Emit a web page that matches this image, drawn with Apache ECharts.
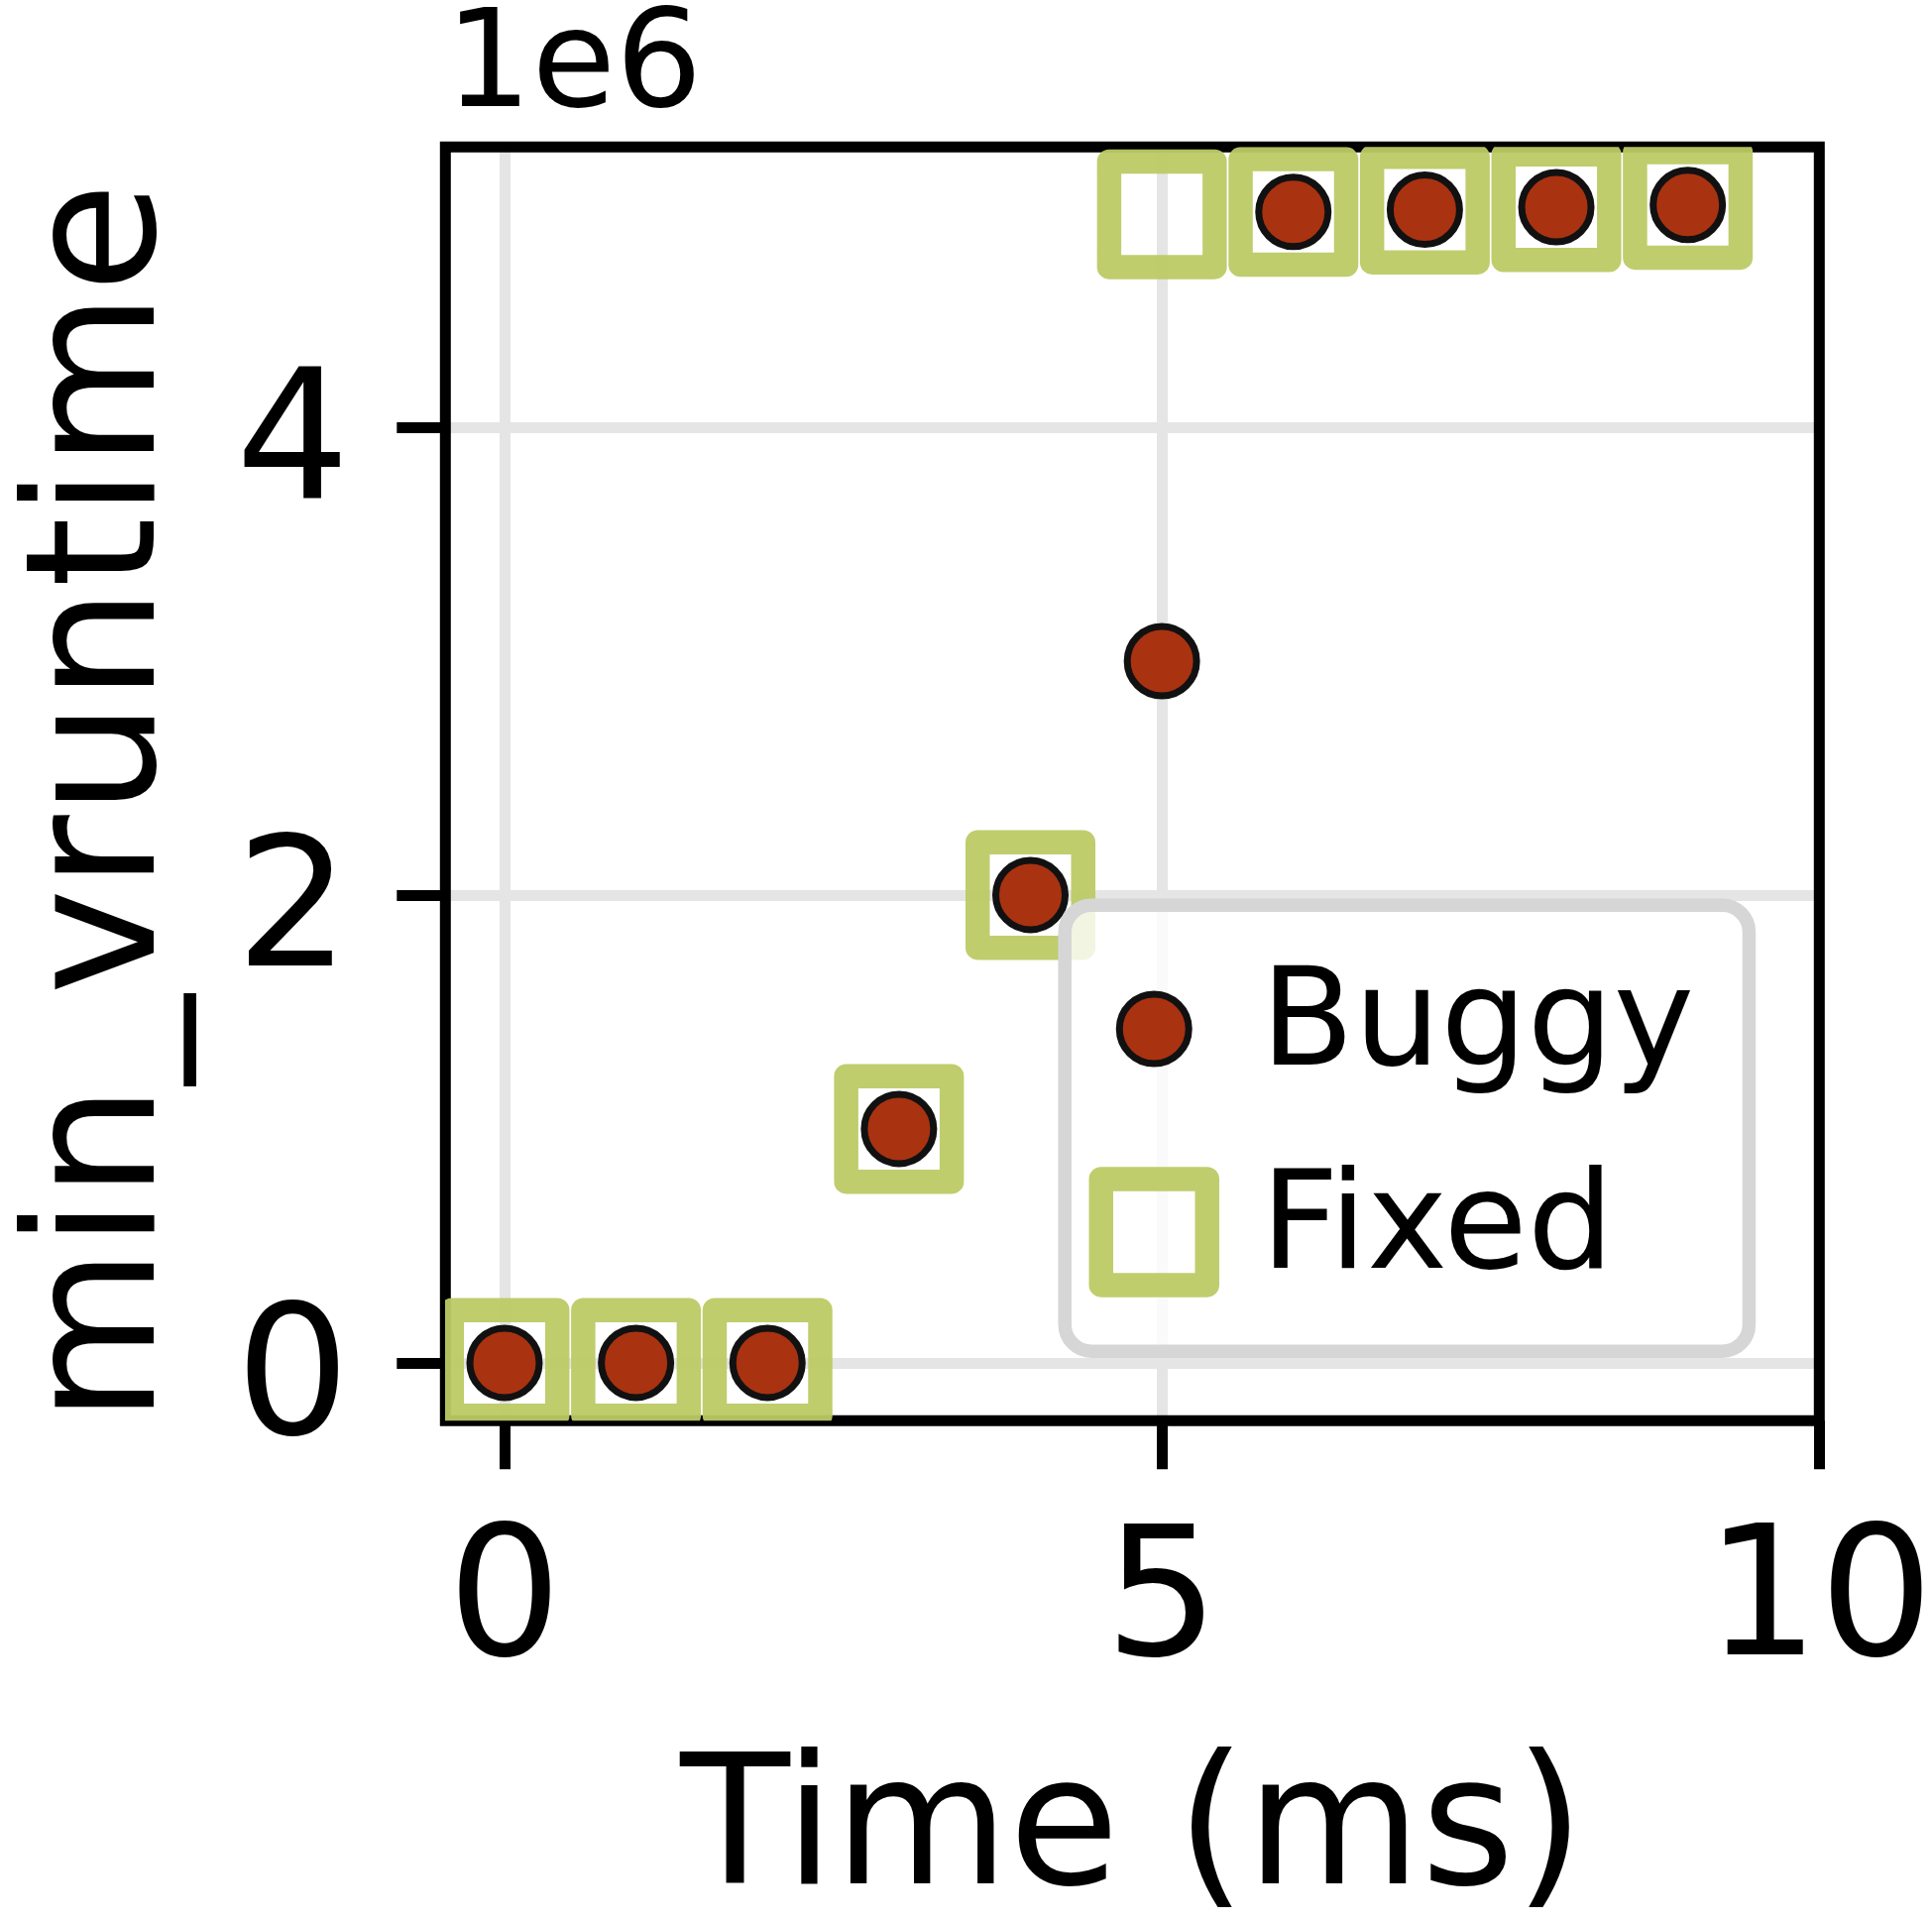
<!DOCTYPE html>
<html><head><meta charset="utf-8">
<script src="https://cdn.jsdelivr.net/npm/echarts@6/dist/echarts.min.js"></script>
<style>html,body{margin:0;padding:0;background:#fff}#c{width:1949px;height:1938px}</style>
</head><body><div id="c"></div>
<script>
// ---- data ----
const timeMs = [0, 1, 2, 3, 4, 5, 6, 7, 8, 9];
const buggy = [0, 0, 0, 1.0e6, 2.0e6, 3.0e6, 4.92e6, 4.93e6, 4.94e6, 4.95e6];
const fixed = [0, 0, 0, 1.0e6, 2.0e6, 4.91e6, 4.92e6, 4.93e6, 4.94e6, 4.95e6];
const xTicks = [0, 5, 10];
const yTicks = [0, 2e6, 4e6];
const seriesNames = ['Buggy', 'Fixed'];
const yOffsetText = '1e6';

// ---- style ----
const FONT = 'DejaVu Sans';
const BIG = 181;
const RED = '#a93211';
const EDGE = '#111111';
const GREEN = 'rgba(188,202,101,0.95)';
const GRID_C = '#e5e5e5';

const chart = echarts.init(document.getElementById('c'), null, {renderer: 'canvas'});

const buggyData = timeMs.map((t, i) => [t, buggy[i]]);
const fixedData = timeMs.map((t, i) => [t, fixed[i]]);

const option = {
  animation: false,
  backgroundColor: '#fff',
  title: {
    text: yOffsetText, left: 449, top: 3, padding: 0,
    textStyle: {fontFamily: FONT, fontSize: 137.5, lineHeight: 137.5, fontWeight: 'normal', color: '#000'}
  },
  grid: {
    left: 449.3, right: 113.7, top: 148.3, bottom: 504.7,
    containLabel: false, outerBoundsMode: 'none',
    show: true, z: 1, borderColor: '#000', borderWidth: 11, backgroundColor: 'transparent'
  },
  xAxis: {
    type: 'value', min: -0.45, max: 10,
    name: 'Time (ms)', nameLocation: 'middle', nameGap: 329,
    nameTextStyle: {fontFamily: FONT, fontSize: BIG, lineHeight: BIG, color: '#000'},
    axisLine: {show: false, onZero: false},
    axisTick: {show: true, inside: false, customValues: xTicks, length: 49, lineStyle: {color: '#000', width: 11}},
    axisLabel: {customValues: xTicks, margin: 98, fontFamily: FONT, fontSize: BIG, lineHeight: BIG, color: '#000',
      formatter: v => String(v)},
    splitLine: {show: true, lineStyle: {color: GRID_C, width: 11}}
  },
  yAxis: {
    type: 'value', min: -0.2475e6, max: 5.1975e6,
    name: 'min_vruntime', nameLocation: 'middle', nameRotate: 90, nameGap: 251,
    nameTextStyle: {fontFamily: FONT, fontSize: BIG, lineHeight: BIG, color: '#000', padding: [0, 38, 0, 0]},
    axisLine: {show: false, onZero: false},
    axisTick: {show: true, inside: false, customValues: yTicks, length: 49, lineStyle: {color: '#000', width: 11}},
    axisLabel: {customValues: yTicks, margin: 96.5, fontFamily: FONT, fontSize: BIG, lineHeight: 48,
      verticalAlign: 'top', color: '#000', formatter: v => String(Math.round(v / 1e6))},
    splitLine: {show: true, lineStyle: {color: GRID_C, width: 11}}
  },
  legend: {
    orient: 'vertical', left: 1074.2, top: 913.2,
    padding: [45, 55.3, 40.5, 24.3],
    itemWidth: 156, itemHeight: 107, itemGap: 45.5,
    backgroundColor: 'rgba(255,255,255,0.8)', borderColor: '#d6d6d6', borderWidth: 13.5, borderRadius: 27,
    textStyle: {fontFamily: FONT, fontSize: 137.5, lineHeight: 137.5, color: '#000', padding: [0, 0, 22, 0]},
    selectedMode: false,
    data: [
      {name: seriesNames[0],
       icon: 'path://M0,0M156,107M18.5,53.5A35,35,0,1,1,88.5,53.5A35,35,0,1,1,18.5,53.5Z',
       itemStyle: {color: RED, borderColor: EDGE, borderWidth: 7}},
      {name: seriesNames[1],
       icon: 'path://M0,0M156,107M0,0L107,0L107,107L0,107Z',
       itemStyle: {color: 'rgba(0,0,0,0)', borderColor: GREEN, borderWidth: 24.5, borderJoin: 'round'}}
    ]
  },
  series: [
    {
      name: seriesNames[1], type: 'custom', z: 2, clip: true,
      encode: {x: 0, y: 1},
      itemStyle: {color: GREEN},
      data: fixedData,
      renderItem: function (params, api) {
        const p = api.coord([api.value(0), api.value(1)]);
        const h = 53.25;
        return {type: 'rect', shape: {x: p[0] - h, y: p[1] - h, width: 2 * h, height: 2 * h},
          style: {fill: 'none', stroke: GREEN, lineWidth: 24.5, lineJoin: 'round'}};
      }
    },
    {
      name: seriesNames[0], type: 'custom', z: 3, clip: true,
      encode: {x: 0, y: 1},
      itemStyle: {color: RED},
      data: buggyData,
      renderItem: function (params, api) {
        const p = api.coord([api.value(0), api.value(1)]);
        return {type: 'circle', shape: {cx: p[0], cy: p[1], r: 35},
          style: {fill: RED, stroke: EDGE, lineWidth: 7}};
      }
    }
  ]
};
chart.setOption(option);
</script></body></html>
